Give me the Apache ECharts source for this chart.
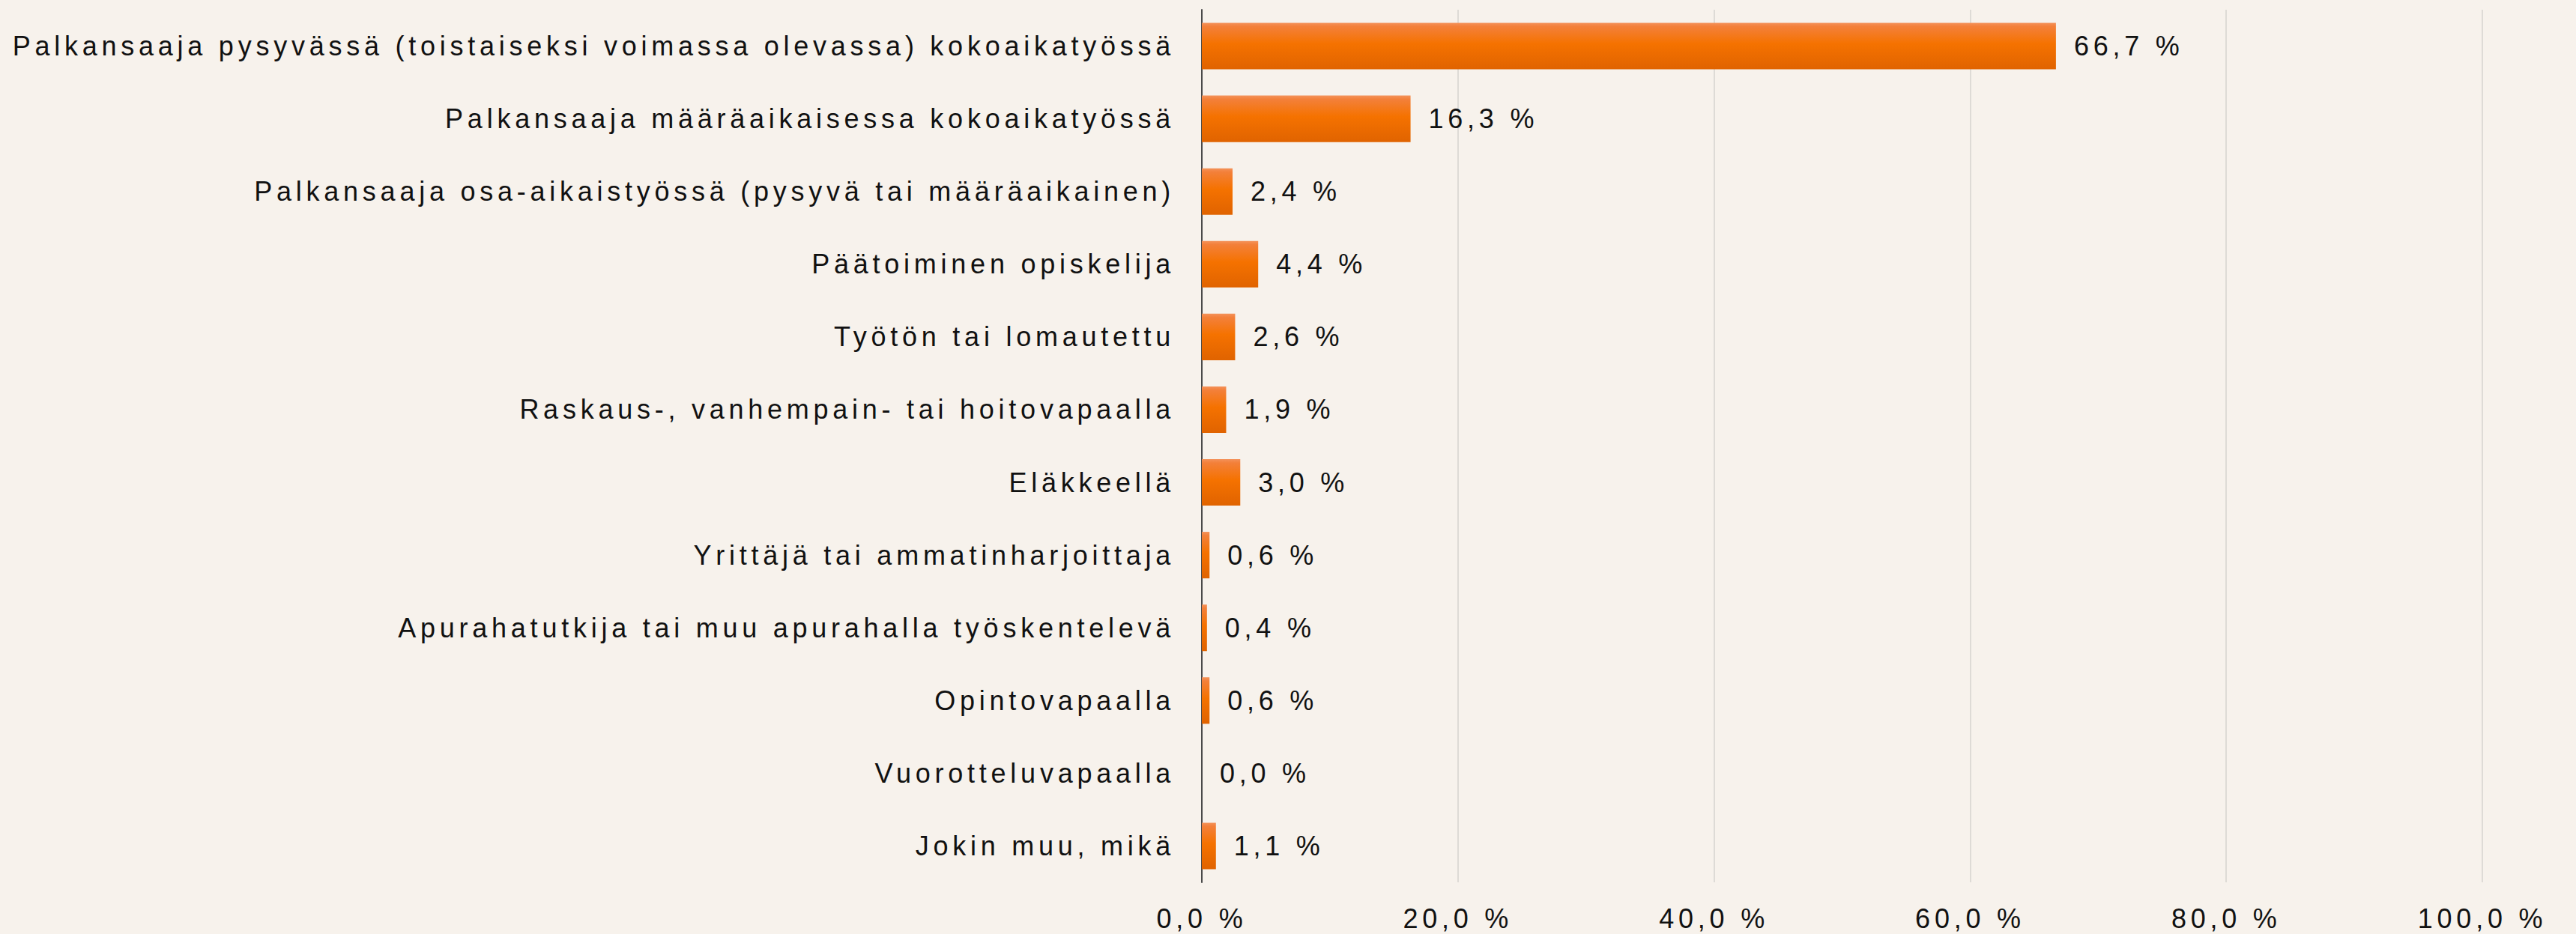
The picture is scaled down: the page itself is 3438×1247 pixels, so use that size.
<!DOCTYPE html>
<html>
<head>
<meta charset="utf-8">
<script src="https://cdn.jsdelivr.net/npm/echarts@6/dist/echarts.min.js"></script>
<style>
html, body { margin: 0; padding: 0; background: #f7f2ec; }
#chart { width: 3438px; height: 1247px; }
#chart text { letter-spacing: 5.75px; }
</style>
</head>
<body>
<div id="chart"></div>
<script>
const categories = [
  "Palkansaaja pysyvässä (toistaiseksi voimassa olevassa) kokoaikatyössä",
  "Palkansaaja määräaikaisessa kokoaikatyössä",
  "Palkansaaja osa-aikaistyössä (pysyvä tai määräaikainen)",
  "Päätoiminen opiskelija",
  "Työtön tai lomautettu",
  "Raskaus-, vanhempain- tai hoitovapaalla",
  "Eläkkeellä",
  "Yrittäjä tai ammatinharjoittaja",
  "Apurahatutkija tai muu apurahalla työskentelevä",
  "Opintovapaalla",
  "Vuorotteluvapaalla",
  "Jokin muu, mikä"
];
const values = [66.7, 16.3, 2.4, 4.4, 2.6, 1.9, 3.0, 0.6, 0.4, 0.6, 0.0, 1.1];
const axisTicks = [0, 20, 40, 60, 80, 100];

const fmt = v => v.toFixed(1).replace('.', ',') + ' %';
const font = '"Liberation Sans", Arial, sans-serif';

const chart = echarts.init(document.getElementById('chart'), null, { renderer: 'svg' });
chart.setOption({
  backgroundColor: '#f7f2ec',
  animation: false,
  grid: { left: 1604, right: 125, top: 13, bottom: 69, containLabel: false },
  xAxis: {
    type: 'value',
    min: axisTicks[0],
    max: axisTicks[axisTicks.length - 1],
    interval: 20,
    axisLine: { show: false },
    axisTick: { show: false },
    splitLine: { show: true, lineStyle: { color: '#dedbd6', width: 2 } },
    axisLabel: {
      formatter: v => fmt(v),
      color: '#111111',
      fontSize: 36,
      fontFamily: font,
      margin: 30
    }
  },
  yAxis: {
    type: 'category',
    inverse: true,
    data: categories,
    axisLine: { show: true, onZero: false, lineStyle: { color: '#4a4a4a', width: 2 } },
    axisTick: { show: false },
    splitLine: { show: false },
    axisLabel: {
      color: '#111111',
      fontSize: 36,
      fontFamily: font,
      margin: 36
    }
  },
  series: [{
    type: 'bar',
    data: values,
    barCategoryGap: '36%',
    itemStyle: {
      color: new echarts.graphic.LinearGradient(0, 0, 0, 1, [
        { offset: 0, color: '#f4925a' },
        { offset: 0.08, color: '#f3803a' },
        { offset: 0.45, color: '#f57200' },
        { offset: 1, color: '#e06300' }
      ])
    },
    label: {
      show: true,
      position: 'right',
      distance: 24,
      formatter: p => fmt(p.value),
      color: '#111111',
      fontSize: 36,
      fontFamily: font
    }
  }]
});
</script>
</body>
</html>
